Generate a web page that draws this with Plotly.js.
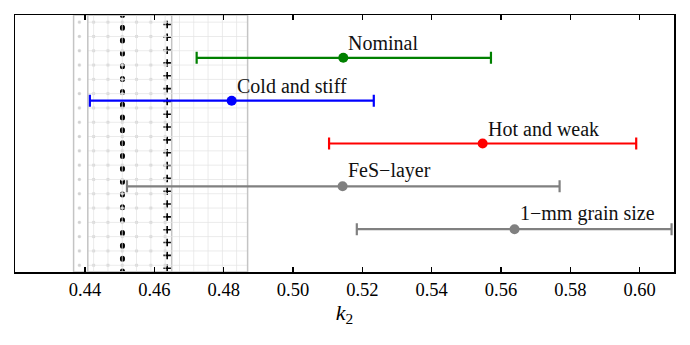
<!DOCTYPE html>
<html>
<head>
<meta charset="utf-8">
<script src="https://cdn.plot.ly/plotly-3.0.1.min.js"></script>
<style>
  html, body { margin: 0; padding: 0; background: #fff; }
</style>
</head>
<body>
<div id="divK2" style="width:690px;height:345px;"></div>
<script>
// model cases
var names = ['Nominal', 'Cold and stiff', 'Hot and weak', 'FeS\u2212layer', '1\u2212mm grain size'];
var k2 = [0.5145, 0.4823, 0.5547, 0.5143, 0.5639];
var k2Low = [0.4722, 0.4414, 0.5104, 0.4521, 0.5184];
var k2High = [0.5571, 0.5233, 0.5990, 0.5769, 0.6092];
var rowPos = [5, 4, 3, 2, 1];
var colors = ['green', 'blue', 'red', 'gray', 'gray'];

// shaded ranges and reference values in the background
var circleSpan = [0.4367, 0.4650];
var gridSpan = [0.4408, 0.4869];
var dotLine = 0.4508;
var plusLine = 0.4637;

var tickVals = [0.44, 0.46, 0.48, 0.50, 0.52, 0.54, 0.56, 0.58, 0.60];

var serif = 'Liberation Serif';

function spanTrace(span, shape, solidity, fg) {
	return {
		x: [span[0], span[0], span[1], span[1], span[0]],
		y: [0, 6, 6, 0, 0],
		mode: 'lines',
		fill: 'toself',
		fillcolor: 'rgba(0,0,0,0)',
		fillpattern: {shape: shape, size: 14.3, solidity: solidity, fgcolor: fg, bgcolor: 'rgba(0,0,0,0)'},
		line: {color: '#c4c4c4', width: 1.5},
		hoverinfo: 'skip',
		showlegend: false
	};
}

var data = [
	spanTrace(circleSpan, '.', 0.04, '#d0d0d0'),
	spanTrace(gridSpan, '+', 0.1, '#e4e4e4')
];

var annotations = [];
for (var i = 0; i < names.length; i++) {
	data.push({
		x: [k2[i]],
		y: [rowPos[i]],
		mode: 'markers',
		type: 'scatter',
		marker: {color: colors[i], size: 10},
		error_x: {
			type: 'data',
			symmetric: false,
			array: [k2High[i] - k2[i]],
			arrayminus: [k2[i] - k2Low[i]],
			color: colors[i],
			thickness: 2.2,
			width: 6
		},
		showlegend: false
	});
	annotations.push({
		x: k2[i], y: rowPos[i],
		text: names[i],
		showarrow: false,
		xanchor: 'left', yanchor: 'bottom',
		xshift: 3, yshift: 2,
		font: {family: serif, size: 20, color: '#111'}
	});
}

var shapes = [
	{type: 'line', layer: 'below', xref: 'x', yref: 'y', x0: dotLine, x1: dotLine, y0: 0, y1: 6,
	 line: {color: 'black', width: 5, dash: '1px,11.83px'}},
	{type: 'line', layer: 'below', xref: 'x', yref: 'y', x0: plusLine, x1: plusLine, y0: 0, y1: 6,
	 line: {color: 'black', width: 1.6, dash: '7.5px,5.33px'}},
	{type: 'line', layer: 'below', xref: 'x', yref: 'y', x0: plusLine, x1: plusLine, y0: 0, y1: 6,
	 line: {color: 'black', width: 7.5, dash: '0px,3px,1.6px,8.23px'}}
];

var layout = {
	width: 690,
	height: 345,
	margin: {l: 15, r: 16, t: 15, b: 72.5},
	paper_bgcolor: 'white',
	plot_bgcolor: 'white',
	hovermode: false,
	showlegend: false,
	font: {family: serif, color: 'black'},
	xaxis: {
		range: [0.4198, 0.6099],
		tickvals: tickVals,
		tickformat: '.2f',
		ticks: 'inside',
		ticklen: 5,
		tickwidth: 1.5,
		tickcolor: 'black',
		showline: true,
		linecolor: 'black',
		linewidth: 1.5,
		mirror: 'ticks',
		showgrid: false,
		zeroline: false,
		tickfont: {family: serif, size: 18.5, color: 'black'},
		title: {text: '<i>k</i><sub>2</sub>', font: {family: serif, size: 22, color: 'black'}, standoff: 0}
	},
	yaxis: {
		range: [0, 6],
		showticklabels: false,
		ticks: '',
		showline: true,
		linecolor: 'black',
		linewidth: 1.5,
		mirror: true,
		showgrid: false,
		zeroline: false
	},
	shapes: shapes,
	annotations: annotations
};

var config = {staticPlot: true};

Plotly.newPlot('divK2', data, layout, config).then(function () {
	// round caps turn the short dashes into dots
	var paths = document.querySelectorAll('.shapelayer path');
	paths.forEach(function (p) {
		if ((p.style.strokeDasharray || '').indexOf('1px') === 0) {
			p.style.strokeLinecap = 'round';
		}
	});
});
</script>
</body>
</html>
